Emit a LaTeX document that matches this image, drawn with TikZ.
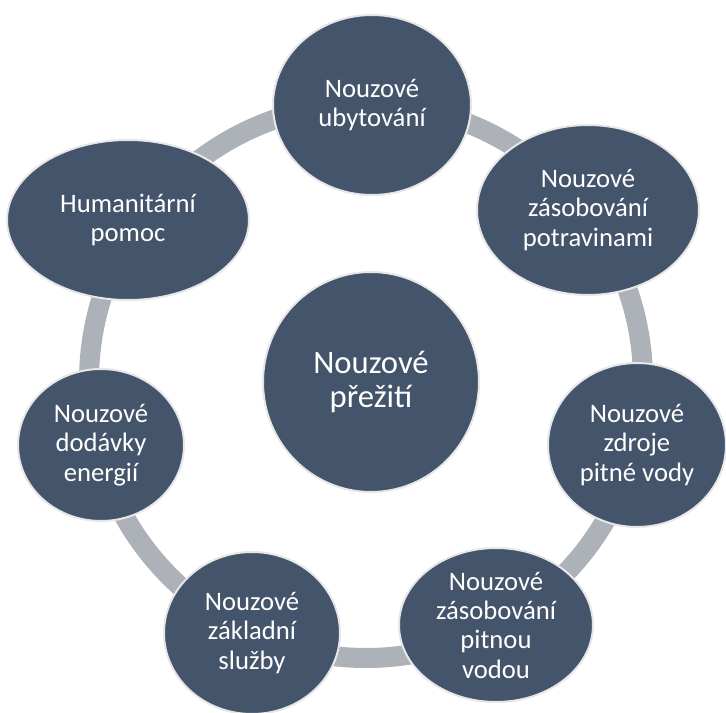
\documentclass[tikz,border=0pt]{standalone}
\usepackage{fontspec}
\setmainfont{Carlito}
\usetikzlibrary{shapes.geometric}

\definecolor{slate}{HTML}{44546A}
\definecolor{ringgray}{RGB}{173,177,184}
\definecolor{rimgray}{RGB}{232,231,231}

\begin{document}
\begin{tikzpicture}[
    x=0.75pt, y=-0.75pt,
    bubble/.style 2 args={ellipse, draw=rimgray, line width=1.5pt, fill=slate,
        text=white, inner sep=0pt, minimum width=#1, minimum height=#2,
        align=center, font=\fontsize{20}{22}\selectfont},
    hub/.style={bubble={162pt}{165pt}, font=\fontsize{24.5}{25.5}\selectfont},
    ring/.style={draw=ringgray, line width=15pt}
]
% Canvas
\useasboundingbox (0,0) rectangle (726,713);

% Ring
\def\R{207.75pt} % ring radius
\coordinate (mid) at (366,381);
\draw[ring] (mid) circle (\R);

% Centre
\node[hub] (preziti) at (371,382) {Nouzové\\přežití};

% Outer bubbles
\node[bubble={148.5pt}{135pt}]   (ubytovani) at (372,105) {Nouzové\\ubytování};
\node[bubble={166.5pt}{127.5pt}] (potraviny) at (588,210) {Nouzové\\zásobování\\potravinami};
\node[bubble={133.5pt}{123pt}]   (zdroje)    at (637,445) {Nouzové\\zdroje\\pitné vody};
\node[bubble={145.5pt}{115.5pt}] (pitnavoda) at (496,625) {Nouzové\\zásobování\\pitnou\\vodou};
\node[bubble={132pt}{121.5pt}]   (sluzby)    at (252,633) {Nouzové\\základní\\služby};
\node[bubble={124.5pt}{114pt}]   (energie)   at (101,445) {Nouzové\\dodávky\\energií};
\node[bubble={181.5pt}{120pt}]   (pomoc)     at (128,220) {Humanitární\\pomoc};

\end{tikzpicture}
\end{document}
